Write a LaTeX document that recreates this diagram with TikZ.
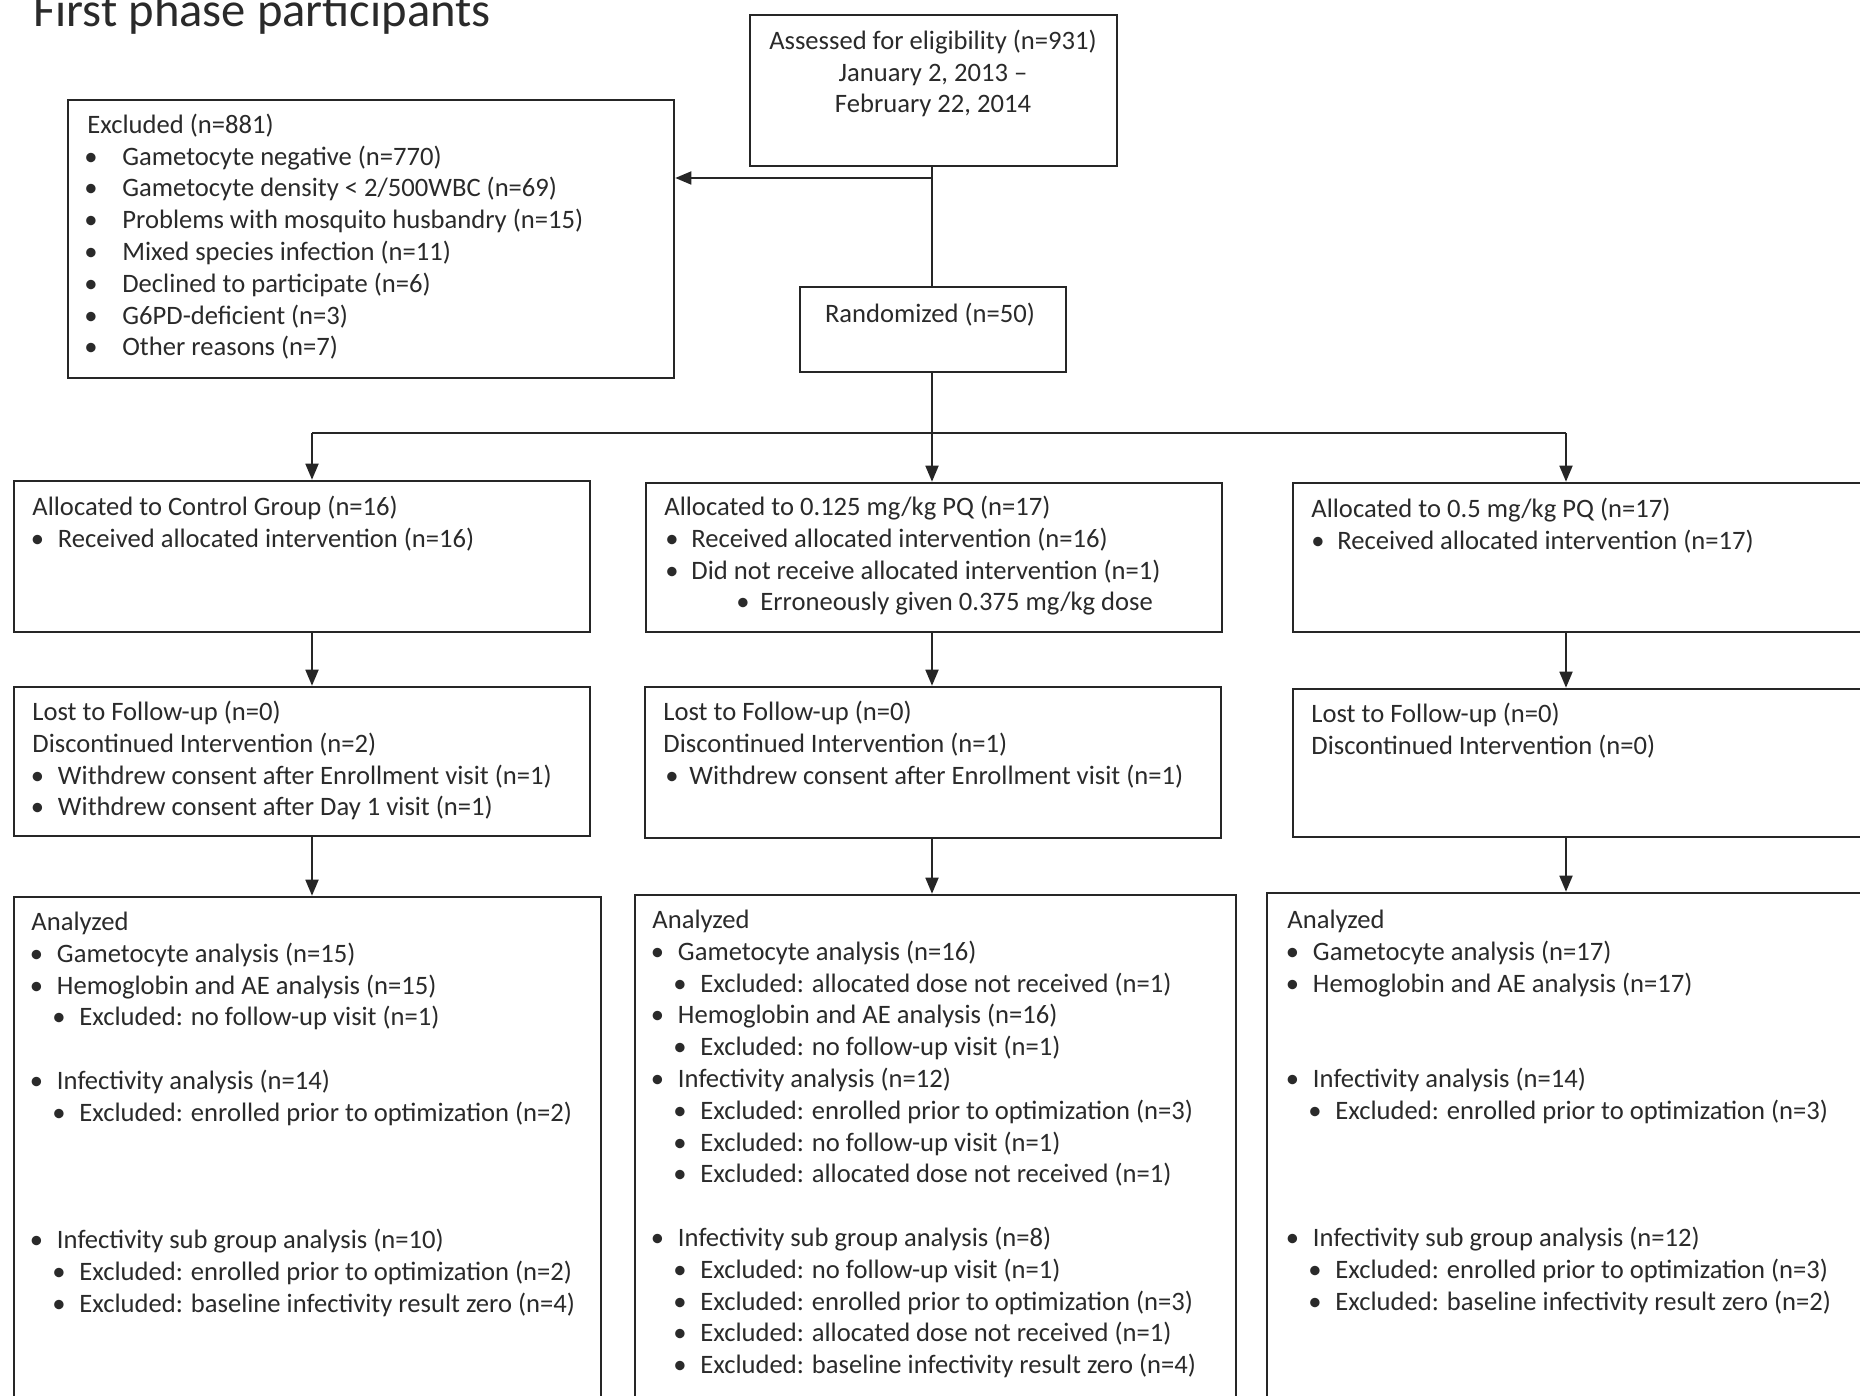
\documentclass[tikz,border=0pt]{standalone}
\usepackage{fontspec}
\setmainfont{Carlito}
\usetikzlibrary{arrows.meta,fit}
\definecolor{linec}{HTML}{262626}
\definecolor{textc}{HTML}{2A2A2A}
\newcommand{\mybul}[3]{\makebox[#2][l]{\hspace*{#1}\textbullet}#3}
\newcommand{\bA}[1]{\mybul{-0.8pt}{12.8pt}{#1}}
\newcommand{\bB}[1]{\mybul{10.5pt}{24pt}{#1}}
\newcommand{\fr}{\rule{0pt}{11pt}}
\tikzset{
  box/.style={draw=linec, line width=1.3pt, inner sep=0pt, rectangle},
  txt/.style={text=textc, font=\fontsize{13.3}{15.9}\selectfont, inner sep=0pt, align=left, anchor=north west, yshift=11pt},
  ctxt/.style={text=textc, font=\fontsize{13.3}{15.9}\selectfont, inner sep=0pt, align=center, anchor=north, yshift=11pt},
  conn/.style={draw=linec, line width=0.9pt},
  arr/.style={conn, -{Triangle[length=8pt,width=6.5pt]}}
}
\begin{document}
\begin{tikzpicture}[x=0.5pt,y=-0.5pt]
\useasboundingbox (0,0) rectangle (1860,1396);
\fill[white] (0,0) rectangle (1860,1396);
\clip (0,0) rectangle (1860,1396);

% title
\node[anchor=base west, text=textc, font=\fontsize{24.3}{28}\selectfont, inner sep=0pt] (title) at (33,27) {First phase participants};

% boxes
\node[box, fit={(750,15) (1117,166)}] (assess) {};
\node[box, fit={(68,100) (674,378)}] (excl) {};
\node[box, fit={(800,287) (1066,372)}] (rand) {};
\node[box, fit={(14,481) (590,632)}] (allocA) {};
\node[box, fit={(646,483) (1222,632)}] (allocB) {};
\node[box, fit={(1293,483) (1880,632)}] (allocC) {};
\node[box, fit={(14,687) (590,836)}] (lostA) {};
\node[box, fit={(645,687) (1221,838)}] (lostB) {};
\node[box, fit={(1293,689) (1880,837)}] (lostC) {};
\node[box, fit={(14,897) (601,1430)}] (anaA) {};
\node[box, fit={(635,895) (1236,1430)}] (anaB) {};
\node[box, fit={(1267,893) (1880,1430)}] (anaC) {};

% texts
\node[ctxt] (assessT) at (933,49) {\fr Assessed for eligibility (n=931)\\January 2, 2013 –\\February 22, 2014};
\node[txt] (exclT) at (87,133) {\fr Excluded (n=881)\\
\mybul{-1.5pt}{17.5pt}{Gametocyte negative (n=770)}\\
\mybul{-1.5pt}{17.5pt}{Gametocyte density < 2/500WBC (n=69)}\\
\mybul{-1.5pt}{17.5pt}{Problems with mosquito husbandry (n=15)}\\
\mybul{-1.5pt}{17.5pt}{Mixed species infection (n=11)}\\
\mybul{-1.5pt}{17.5pt}{Declined to participate (n=6)}\\
\mybul{-1.5pt}{17.5pt}{G6PD-deficient (n=3)}\\
\mybul{-1.5pt}{17.5pt}{Other reasons (n=7)}};
\node[ctxt] (randT) at (930,322) {\fr Randomized (n=50)};

\node[txt] (allocAT) at (32,515) {\fr Allocated to Control Group (n=16)\\
\bA{Received allocated intervention (n=16)}};
\node[txt] (allocBT) at (664,515) {\fr Allocated to 0.125 mg/kg PQ (n=17)\\
\mybul{0.5pt}{13.5pt}{Received allocated intervention (n=16)}\\
\mybul{0.5pt}{13.5pt}{Did not receive allocated intervention (n=1)}\\
\mybul{36pt}{48pt}{Erroneously given 0.375 mg/kg dose}};
\node[txt] (allocCT) at (1311,517) {\fr Allocated to 0.5 mg/kg PQ (n=17)\\
\mybul{0pt}{13pt}{Received allocated intervention (n=17)}};

\node[txt] (lostAT) at (32,720) {\fr Lost to Follow-up (n=0)\\
Discontinued Intervention (n=2)\\
\bA{Withdrew consent after Enrollment visit (n=1)}\\
\bA{Withdrew consent after Day 1 visit (n=1)}};
\node[txt] (lostBT) at (663,720) {\fr Lost to Follow-up (n=0)\\
Discontinued Intervention (n=1)\\
\mybul{1pt}{13pt}{Withdrew consent after Enrollment visit (n=1)}};
\node[txt] (lostCT) at (1311,722) {\fr Lost to Follow-up (n=0)\\
Discontinued Intervention (n=0)};

\node[txt] (anaAT) at (31,930) {\fr Analyzed\\
\bA{Gametocyte analysis (n=15)}\\
\bA{Hemoglobin and AE analysis (n=15)}\\
\bB{Excluded: no follow-up visit (n=1)}\\[15.9pt]
\bA{Infectivity analysis (n=14)}\\
\bB{Excluded: enrolled prior to optimization (n=2)}\\[47.7pt]
\bA{Infectivity sub group analysis (n=10)}\\
\bB{Excluded: enrolled prior to optimization (n=2)}\\
\bB{Excluded: baseline infectivity result zero (n=4)}};
\node[txt] (anaBT) at (652,928) {\fr Analyzed\\
\bA{Gametocyte analysis (n=16)}\\
\bB{Excluded: allocated dose not received (n=1)}\\
\bA{Hemoglobin and AE analysis (n=16)}\\
\bB{Excluded: no follow-up visit (n=1)}\\
\bA{Infectivity analysis (n=12)}\\
\bB{Excluded: enrolled prior to optimization (n=3)}\\
\bB{Excluded: no follow-up visit (n=1)}\\
\bB{Excluded: allocated dose not received (n=1)}\\[15.9pt]
\bA{Infectivity sub group analysis (n=8)}\\
\bB{Excluded: no follow-up visit (n=1)}\\
\bB{Excluded: enrolled prior to optimization (n=3)}\\
\bB{Excluded: allocated dose not received (n=1)}\\
\bB{Excluded: baseline infectivity result zero (n=4)}};
\node[txt] (anaCT) at (1287,928) {\fr Analyzed\\
\bA{Gametocyte analysis (n=17)}\\
\bA{Hemoglobin and AE analysis (n=17)}\\[31.8pt]
\bA{Infectivity analysis (n=14)}\\
\bB{Excluded: enrolled prior to optimization (n=3)}\\[47.7pt]
\bA{Infectivity sub group analysis (n=12)}\\
\bB{Excluded: enrolled prior to optimization (n=3)}\\
\bB{Excluded: baseline infectivity result zero (n=2)}};

% connectors
\coordinate (j1) at (932,178);
\coordinate (hA) at (312,433);
\coordinate (hB) at (932,433);
\coordinate (hC) at (1566,433);
\draw[conn] (assess.south -| j1) -- (rand.north -| j1);
\draw[arr] (j1) -- (excl.east |- j1);
\draw[conn] (rand.south -| hB) -- (hB);
\draw[conn] (hA) -- (hC);
\draw[arr] (hA) -- (allocA.north -| hA);
\draw[arr] (hB) -- (allocB.north -| hB);
\draw[arr] (hC) -- (allocC.north -| hC);
\draw[arr] (allocA.south -| hA) -- (lostA.north -| hA);
\draw[arr] (allocB.south -| hB) -- (lostB.north -| hB);
\draw[arr] (allocC.south -| hC) -- (lostC.north -| hC);
\draw[arr] (lostA.south -| hA) -- (anaA.north -| hA);
\draw[arr] (lostB.south -| hB) -- (anaB.north -| hB);
\draw[arr] (lostC.south -| hC) -- (anaC.north -| hC);
\end{tikzpicture}
\end{document}
